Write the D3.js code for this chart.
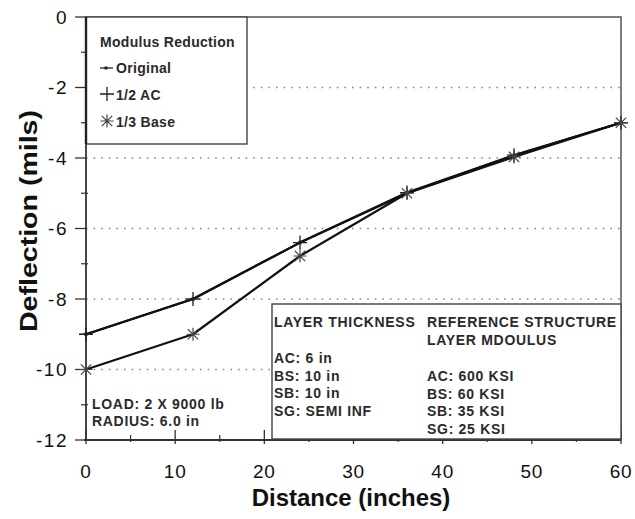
<!DOCTYPE html>
<html>
<head>
<meta charset="utf-8">
<script src="https://cdn.jsdelivr.net/npm/d3@7"></script>
<style>
  body { margin: 0; background: #fff; }
  svg { display: block; font-family: "Liberation Sans", Arial, sans-serif; }
</style>
</head>
<body>
<svg id="chart" width="635" height="519"></svg>
<script>
// Surface deflection basin under dual-wheel load
const distances = [0, 12, 24, 36, 48, 60];
const original = [-9, -8, -6.4, -5, -3.92, -3];
const halfAC   = [-9, -8, -6.4, -4.98, -3.92, -3];
const thirdBase = [-10, -9, -6.78, -5, -3.97, -3];

const xTicks = [0, 10, 20, 30, 40, 50, 60];
const yTicks = [0, -2, -4, -6, -8, -10, -12];
const gridLevels = [-2, -4, -6, -8, -10];

const legendTitle = "Modulus Reduction";
const seriesNames = ["Original", "1/2 AC", "1/3 Base"];
const thicknessLines = ["AC: 6 in", "BS: 10 in", "SB: 10 in", "SG: SEMI INF"];
const modulusLines = ["AC: 600 KSI", "BS: 60 KSI", "SB: 35 KSI", "SG: 25 KSI"];
const loadLines = ["LOAD: 2 X 9000 lb", "RADIUS: 6.0 in"];

const svg = d3.select("#chart");
const pL = 86, pR = 621, pT = 17, pB = 440;

const x = d3.scaleLinear().domain([0, 60]).range([pL, pR]);
const y = d3.scaleLinear().domain([-12, 0]).range([pB, pT]);

// dotted grid
svg.append("g").selectAll("line").data(gridLevels).join("line")
  .attr("x1", pL).attr("x2", pR)
  .attr("y1", d => y(d)).attr("y2", d => y(d))
  .attr("stroke", "#888").attr("stroke-width", 1.6)
  .attr("stroke-dasharray", "1.6,6");

// frame: top and right edges
svg.append("path")
  .attr("d", `M${pL},${pT}H${pR}V${pB}`)
  .attr("fill", "none").attr("stroke", "#555").attr("stroke-width", 1.5);

// y axis
const yAxis = svg.append("g").attr("transform", `translate(${pL},0)`);
yAxis.append("line").attr("x1", 0).attr("x2", 0).attr("y1", pT).attr("y2", pB)
  .attr("stroke", "#333").attr("stroke-width", 1.8);
yAxis.selectAll(".maj").data(yTicks).join("line")
  .attr("x1", -11).attr("x2", 0).attr("y1", d => y(d)).attr("y2", d => y(d))
  .attr("stroke", "#333").attr("stroke-width", 1.3);
yAxis.selectAll(".min").data(d3.range(-11, 0, 2)).join("line")
  .attr("x1", -5).attr("x2", 2).attr("y1", d => y(d)).attr("y2", d => y(d))
  .attr("stroke", "#333").attr("stroke-width", 1.2);
yAxis.selectAll("text").data(yTicks).join("text")
  .attr("x", -18).attr("y", d => y(d)).attr("dy", "0.36em")
  .attr("text-anchor", "end").attr("font-size", 19).attr("letter-spacing", 1.5)
  .attr("fill", "#111")
  .text(d => d);

// x axis
const xAxis = svg.append("g").attr("transform", `translate(0,${pB})`);
xAxis.append("line").attr("x1", pL - 2).attr("x2", pR).attr("y1", 0).attr("y2", 0)
  .attr("stroke", "#333").attr("stroke-width", 1.8);
xAxis.selectAll(".maj").data(xTicks).join("line")
  .attr("x1", d => x(d)).attr("x2", d => x(d)).attr("y1", -10).attr("y2", 4)
  .attr("stroke", "#333").attr("stroke-width", 1.3);
xAxis.selectAll(".min").data(d3.range(5, 60, 10)).join("line")
  .attr("x1", d => x(d)).attr("x2", d => x(d)).attr("y1", -5).attr("y2", 2)
  .attr("stroke", "#333").attr("stroke-width", 1.2);
xAxis.selectAll("text").data(xTicks).join("text")
  .attr("x", d => x(d)).attr("y", 38)
  .attr("text-anchor", "middle").attr("font-size", 19).attr("letter-spacing", 0.8)
  .attr("fill", "#111")
  .text(d => d);

// axis titles
svg.append("text").attr("x", 351).attr("y", 506).attr("text-anchor", "middle")
  .attr("font-size", 24).attr("font-weight", "bold").attr("fill", "#111")
  .text("Distance (inches)");
svg.append("text").attr("transform", "translate(37,221) rotate(-90)")
  .attr("text-anchor", "middle")
  .attr("font-size", 24).attr("font-weight", "bold").attr("fill", "#111")
  .attr("textLength", 222).attr("lengthAdjust", "spacingAndGlyphs")
  .text("Deflection (mils)");

// series lines
const line = d3.line().x(d => x(d[0])).y(d => y(d[1]));
const series = [original, halfAC, thirdBase];
svg.append("g").selectAll("path").data(series).join("path")
  .attr("d", vals => line(distances.map((d, i) => [d, vals[i]])))
  .attr("fill", "none").attr("stroke", "#111").attr("stroke-width", 2.2)
  .attr("stroke-linejoin", "round");

// markers
function plus(g, cx, cy, r) {
  g.append("path").attr("d", `M${cx - r},${cy}H${cx + r}M${cx},${cy - r}V${cy + r}`)
    .attr("stroke", "#222").attr("stroke-width", 1.3).attr("fill", "none");
}
function star(g, cx, cy, r) {
  const d = r * 0.8;
  g.append("path")
    .attr("d", `M${cx - r},${cy}H${cx + r}M${cx},${cy - r}V${cy + r}` +
               `M${cx - d},${cy - d}L${cx + d},${cy + d}M${cx - d},${cy + d}L${cx + d},${cy - d}`)
    .attr("stroke", "#444").attr("stroke-width", 1.2).attr("fill", "none");
}
const mk = svg.append("g");
distances.forEach((d, i) => {
  mk.append("circle").attr("cx", x(d)).attr("cy", y(original[i])).attr("r", 2)
    .attr("fill", "#111");
  plus(mk, x(d), y(halfAC[i]), 7);
  star(mk, x(d), y(thirdBase[i]), 6.5);
});

const tx = { "font-size": 14, "font-weight": "bold", "fill": "#2a2a2a", "letter-spacing": 0.7 };
function txt(g, s, px, py, extra) {
  const t = g.append("text").attr("x", px).attr("y", py).text(s);
  Object.entries(Object.assign({}, tx, extra || {})).forEach(([k, v]) => t.attr(k, v));
  return t;
}

// legend box
const lg = svg.append("g");
lg.append("rect").attr("x", pL).attr("y", pT).attr("width", 161).attr("height", 127)
  .attr("fill", "#fff").attr("stroke", "#444").attr("stroke-width", 1.4);
lg.append("line").attr("x1", pL).attr("x2", pL).attr("y1", pT).attr("y2", pT + 127)
  .attr("stroke", "#222").attr("stroke-width", 2.4);
txt(lg, legendTitle, 100, 47, { "letter-spacing": 0.3 });
const legY = [73, 100, 127];
lg.append("line").attr("x1", 100).attr("x2", 113).attr("y1", legY[0] - 5).attr("y2", legY[0] - 5)
  .attr("stroke", "#222").attr("stroke-width", 1.3);
lg.append("circle").attr("cx", 106).attr("cy", legY[0] - 5).attr("r", 1.8).attr("fill", "#222");
plus(lg, 107, legY[1] - 6, 7);
star(lg, 107, legY[2] - 6, 6.5);
seriesNames.forEach((s, i) => txt(lg, s, 116, legY[i], { "letter-spacing": 0.3 }));

// structure info box
const ib = svg.append("g");
ib.append("rect").attr("x", 272).attr("y", 304).attr("width", pR - 272).attr("height", pB - 304 - 1)
  .attr("fill", "#fff").attr("stroke", "#444").attr("stroke-width", 1.4);
txt(ib, "LAYER THICKNESS", 274, 327);
txt(ib, "REFERENCE STRUCTURE", 427, 327);
txt(ib, "LAYER MDOULUS", 427, 345);
thicknessLines.forEach((s, i) => txt(ib, s, 274, 363 + i * 17.7));
modulusLines.forEach((s, i) => txt(ib, s, 427, 381 + i * 17.7));

// load annotation
loadLines.forEach((s, i) => txt(svg, s, 92, 409 + i * 17));
</script>
</body>
</html>
